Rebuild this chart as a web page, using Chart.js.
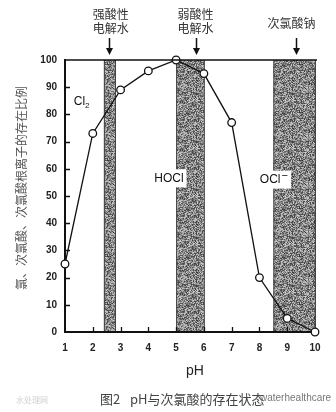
<!DOCTYPE html>
<html lang="zh">
<head>
<meta charset="UTF-8">
<title>pH与次氯酸的存在状态</title>
<script src="https://cdn.jsdelivr.net/npm/chart.js"></script>
<style>
  html, body { margin: 0; padding: 0; background: #fff; }
  #wrap { width: 336px; height: 412px; }
</style>
</head>
<body>
<div id="wrap"><canvas id="phChart" width="336" height="412"></canvas></div>
<script>
// pH on x, share of Cl2 / HOCl / OCl- (%) on y
const phValues = [1, 2, 3, 4, 5, 6, 7, 8, 9, 10];
const ratioValues = [25, 73, 89, 96, 100, 95, 77, 20, 5, 0];

// shaded pH ranges of the three kinds of water
const bandFrom = [2.4, 5.0, 8.5];
const bandTo = [2.8, 6.0, 10.0];
const bandTitles = [['强酸性', '电解水'], ['弱酸性', '电解水'], ['次氯酸钠']];

const xTickValues = [1, 2, 3, 4, 5, 6, 7, 8, 9, 10];
const yTickValues = [0, 10, 20, 30, 40, 50, 60, 70, 80, 90, 100];

const CJK = '"Noto Sans CJK SC", sans-serif';
const LATIN = '"Liberation Sans", Arial, sans-serif';

// grey screentone used for the bands
function screenTone() {
  const c = document.createElement('canvas');
  c.width = c.height = 48;
  const g = c.getContext('2d');
  const img = g.createImageData(48, 48);
  for (let i = 0; i < 48 * 48; i++) {
    let h = Math.imul(i + 17, 2654435761) >>> 0;
    h ^= h >>> 15; h = Math.imul(h, 2246822519) >>> 0; h ^= h >>> 13;
    const v = 132 + (h % 76);
    img.data[i * 4] = img.data[i * 4 + 1] = img.data[i * 4 + 2] = v;
    img.data[i * 4 + 3] = 255;
  }
  g.putImageData(img, 0, 0);
  return g.createPattern(c, 'repeat');
}

const bandsPlugin = {
  id: 'bands',
  beforeDraw(chart) {
    const { ctx, chartArea: a, scales: { x } } = chart;
    const tone = screenTone();
    ctx.save();
    bandFrom.forEach((from, i) => {
      const l = x.getPixelForValue(from), r = x.getPixelForValue(bandTo[i]);
      ctx.fillStyle = tone;
      ctx.fillRect(l, a.top, r - l, a.bottom - a.top);
      ctx.strokeStyle = '#444';
      ctx.lineWidth = 1;
      ctx.beginPath();
      ctx.moveTo(l + 0.5, a.top); ctx.lineTo(l + 0.5, a.bottom);
      ctx.moveTo(r + 0.5, a.top); ctx.lineTo(r + 0.5, a.bottom);
      ctx.stroke();
    });
    ctx.restore();
  }
};

// species names inside the plot
function boxedText(ctx, parts, cx, cy) {
  let w = 0;
  parts.forEach(p => { ctx.font = p.size + 'px ' + LATIN; w += ctx.measureText(p.t).width + (p.gap || 0); });
  let px = cx - w / 2;
  ctx.fillStyle = '#fff';
  ctx.fillRect(px - 3, cy - 9, w + 6, 18);
  ctx.fillStyle = '#111';
  ctx.textBaseline = 'middle';
  ctx.textAlign = 'left';
  parts.forEach(p => {
    ctx.font = p.size + 'px ' + LATIN;
    ctx.fillText(p.t, px + (p.gap || 0), cy + (p.dy || 0));
    px += ctx.measureText(p.t).width + (p.gap || 0);
  });
}

const labelsPlugin = {
  id: 'speciesLabels',
  beforeDatasetsDraw(chart) {
    const { ctx, scales: { x, y } } = chart;
    ctx.save();
    boxedText(ctx, [{ t: 'Cl', size: 12 }, { t: '2', size: 8, dy: 4 }], x.getPixelForValue(1.6), y.getPixelForValue(84.5));
    boxedText(ctx, [{ t: 'HOCl', size: 12 }], x.getPixelForValue(4.74), y.getPixelForValue(56.5));
    boxedText(ctx, [{ t: 'OCl', size: 12 }, { t: '−', size: 11, dy: -4, gap: 1 }], x.getPixelForValue(8.52), y.getPixelForValue(56));
    ctx.restore();
  }
};

const framePlugin = {
  id: 'frame',
  afterDraw(chart) {
    const { ctx, chartArea: a, scales: { x, y } } = chart;
    ctx.save();
    ctx.strokeStyle = '#111';

    // top border
    ctx.lineWidth = 1.6;
    ctx.beginPath();
    ctx.moveTo(a.left, a.top); ctx.lineTo(x.getPixelForValue(10) + 2, a.top);
    ctx.stroke();

    // inward tick marks
    ctx.lineWidth = 1.3;
    ctx.beginPath();
    xTickValues.slice(1, -1).forEach(v => {
      const px = Math.round(x.getPixelForValue(v)) + 0.5;
      ctx.moveTo(px, a.bottom); ctx.lineTo(px, a.bottom - 5);
    });
    yTickValues.slice(1, -1).forEach(v => {
      const py = Math.round(y.getPixelForValue(v)) + 0.5;
      ctx.moveTo(a.left, py); ctx.lineTo(a.left + 5, py);
    });
    ctx.stroke();

    // titles over the bands with arrows
    const titleAt = [2.65, 5.7, 9.15];
    const arrowAt = [2.6, 5.7, 9.3];
    ctx.fillStyle = '#333';
    ctx.font = '12px ' + CJK;
    ctx.textAlign = 'center';
    ctx.textBaseline = 'middle';
    bandTitles.forEach((lines, i) => {
      const tx = x.getPixelForValue(titleAt[i]);
      if (lines.length === 2) {
        ctx.fillText(lines[0], tx, 14);
        ctx.fillText(lines[1], tx, 28);
      } else {
        ctx.fillText(lines[0], tx, 23);
      }
      const ax = Math.round(x.getPixelForValue(arrowAt[i])) + 0.5;
      ctx.lineWidth = 1.5;
      ctx.beginPath();
      ctx.moveTo(ax, 38); ctx.lineTo(ax, 50);
      ctx.stroke();
      ctx.fillStyle = '#111';
      ctx.beginPath();
      ctx.moveTo(ax - 3.5, 48); ctx.lineTo(ax + 3.5, 48); ctx.lineTo(ax, 55);
      ctx.closePath();
      ctx.fill();
      ctx.fillStyle = '#333';
    });

    // y axis title, read bottom to top
    ctx.save();
    ctx.translate(21, 188);
    ctx.rotate(-Math.PI / 2);
    ctx.fillStyle = '#555';
    ctx.font = '12px ' + CJK;
    ctx.fillText('氯、次氯酸、次氯酸根离子的存在比例', 0, 0);
    ctx.restore();

    // x axis title
    ctx.fillStyle = '#222';
    ctx.font = '14px ' + LATIN;
    ctx.fillText('pH', 195, 371);

    // figure caption
    ctx.textAlign = 'left';
    ctx.fillStyle = '#444';
    ctx.font = '13px ' + CJK;
    ctx.fillText('图2', 100, 399);
    ctx.fillText('pH与次氯酸的存在状态', 130, 399);
    ctx.fillStyle = '#777';
    ctx.font = '10px ' + LATIN;
    ctx.fillText('waterhealthcare', 260, 398);
    ctx.fillStyle = '#cfcfcf';
    ctx.font = '8px ' + CJK;
    ctx.fillText('水处理网', 16, 400);
    ctx.restore();
  }
};

new Chart(document.getElementById('phChart'), {
  type: 'line',
  data: {
    labels: phValues,
    datasets: [{
      data: phValues.map((p, i) => ({ x: p, y: ratioValues[i] })),
      borderColor: '#111',
      borderWidth: 1.3,
      pointRadius: 3.8,
      pointBorderWidth: 1.3,
      pointBackgroundColor: '#fff',
      pointBorderColor: '#111',
      tension: 0,
      clip: false
    }]
  },
  options: {
    responsive: false,
    animation: false,
    events: [],
    layout: { padding: { top: 60, right: 21, left: 0, bottom: 0 } },
    plugins: { legend: { display: false }, tooltip: { enabled: false } },
    scales: {
      x: {
        type: 'linear',
        min: 1,
        max: 10,
        afterBuildTicks: s => { s.ticks = xTickValues.map(v => ({ value: v })); },
        afterFit: s => { s.height = 80; s.paddingLeft = 0; s.paddingRight = 0; },
        grid: { display: false, drawTicks: false },
        border: { display: true, color: '#111', width: 2 },
        ticks: { padding: 10, color: '#222', font: { family: LATIN, size: 10, weight: 'bold' }, maxRotation: 0 }
      },
      y: {
        min: 0,
        max: 100,
        afterBuildTicks: s => { s.ticks = yTickValues.map(v => ({ value: v })); },
        afterFit: s => { s.width = 65; s.paddingTop = 0; s.paddingBottom = 0; },
        grid: { display: false, drawTicks: false },
        border: { display: true, color: '#111', width: 2 },
        ticks: { padding: 8, color: '#222', font: { family: LATIN, size: 10, weight: 'bold' } }
      }
    }
  },
  plugins: [bandsPlugin, labelsPlugin, framePlugin]
});
</script>
</body>
</html>
